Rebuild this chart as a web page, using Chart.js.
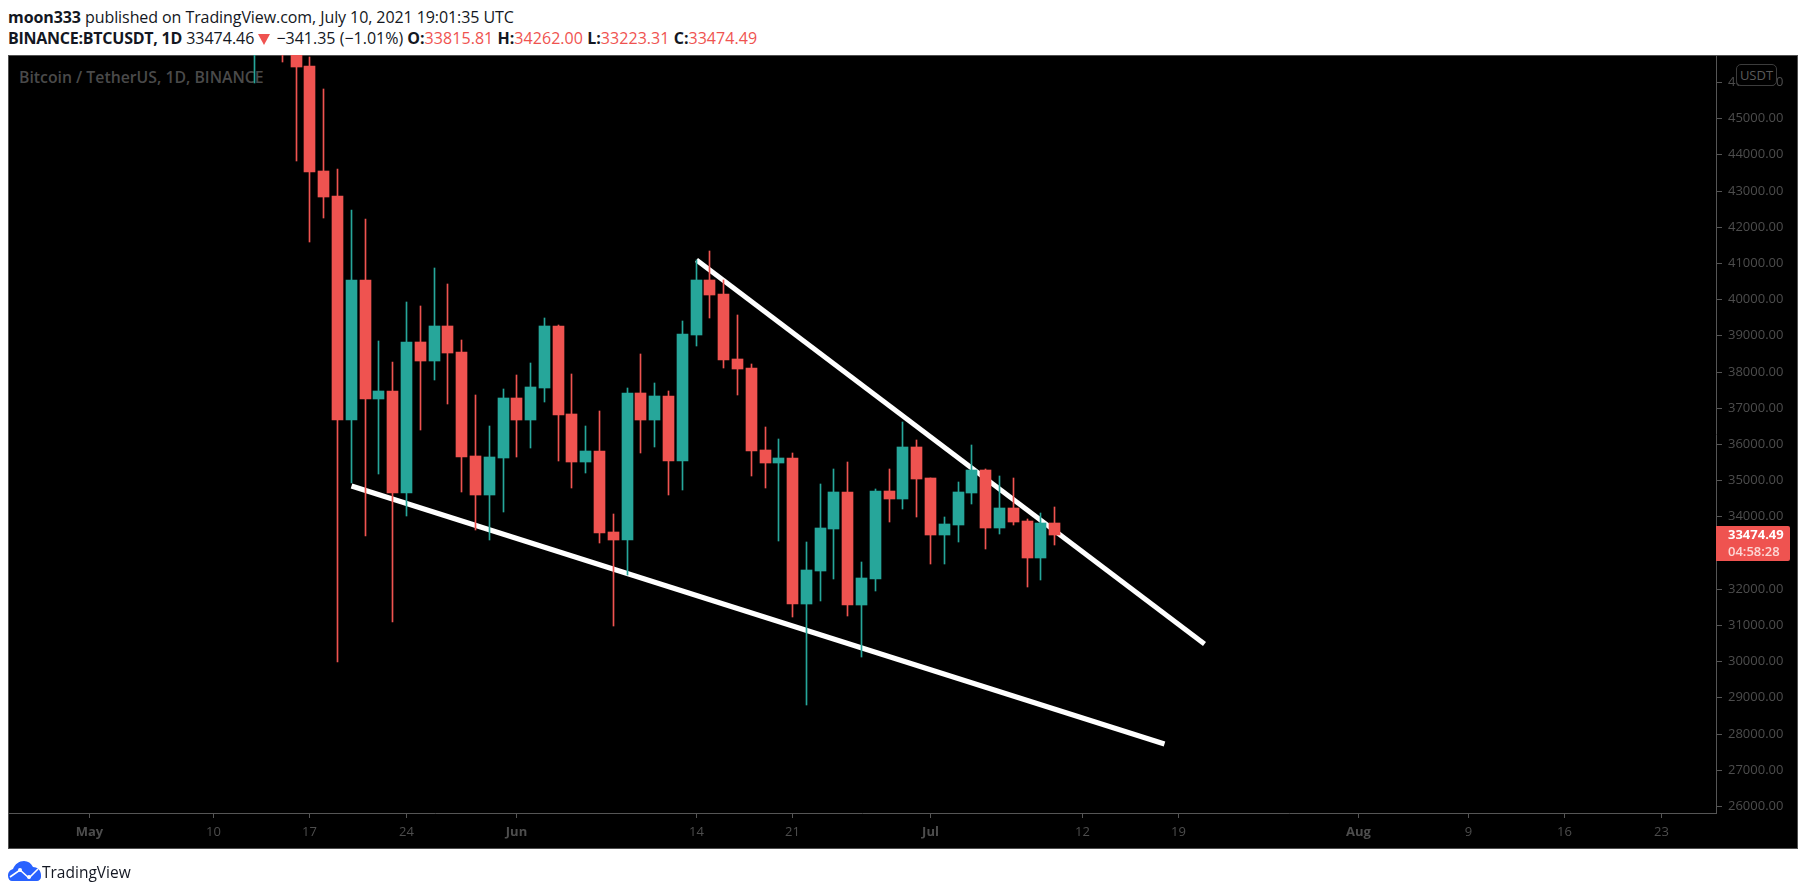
<!DOCTYPE html>
<html><head><meta charset="utf-8">
<script src="https://cdn.jsdelivr.net/npm/chart.js@4/dist/chart.umd.min.js"></script>
<style>
html,body{margin:0;padding:0;background:#fff;width:1805px;height:895px;overflow:hidden;font-family:"Open Sans",sans-serif}
.abs{position:absolute;white-space:nowrap}
#panel{left:8px;top:55px;width:1790px;height:794px;box-sizing:border-box;background:#000;border:1.5px solid #505050}
#hd1{left:8px;top:7px;font-size:16px;line-height:20px;color:#131722;letter-spacing:-0.08px}
#hd2{left:8px;top:28px;font-size:16px;line-height:20px;color:#131722}
.b{font-weight:700}.r{color:#ef5350;letter-spacing:.06px}
#hd2 .s{letter-spacing:-0.25px}
#tri{display:inline-block;width:0;height:0;margin:0 6px 0 4px;border-left:6px solid transparent;border-right:6px solid transparent;border-top:11px solid #ef5350;vertical-align:-1px}
#wm{left:19px;top:65px;font-size:15.8px;line-height:24px;font-weight:600;color:#4a4a4a}
canvas{position:absolute;left:0;top:0}
#usdt{left:1736px;top:64px;width:39px;height:20px;border:1px solid #3c3c3c;border-radius:5px;background:#000;color:#5a5a5a;font:13px/20px "Open Sans",sans-serif;text-align:center}
#last{left:1716px;top:526px;width:74px;height:35px;background:#ef5350;border-radius:0 2px 2px 0;font:700 13px/17px "Open Sans",sans-serif;color:#fff}
#last div{padding-left:12px}
#last .t{color:#fcd7d5;font-weight:600}
#brand{left:42px;top:861px;font-size:15.5px;line-height:22px;color:#131722}
#logo{left:8px;top:861px}
</style></head><body>
<div id="panel" class="abs"></div>
<div id="wm" class="abs">Bitcoin / TetherUS, 1D, BINANCE</div>
<div id="hd1" class="abs"><span class="b">moon333</span> published on TradingView.com, July 10, 2021 19:01:35 UTC</div>
<div id="hd2" class="abs"><span class="b s">BINANCE:BTCUSDT, 1D</span> 33474.46<span id="tri"></span>−341.35 (−1.01%) <span class="b">O:</span><span class="r">33815.81</span> <span class="b">H:</span><span class="r">34262.00</span> <span class="b">L:</span><span class="r">33223.31</span> <span class="b">C:</span><span class="r">33474.49</span></div>
<canvas id="c" width="1805" height="895"></canvas>
<div id="usdt" class="abs">USDT</div>
<div id="last" class="abs"><div>33474.49</div><div class="t">04:58:28</div></div>
<svg id="logo" class="abs" width="33" height="20" viewBox="0 0 33 20"><path fill="#2962ff" d="M0 15C0 11 2 9 5 8 7 3 11 0 16 0c4 0 7 2 9 6 4 0 8 3 8 8v2c0 2-2 4-4 4H4c-2 0-4-2-4-5z"/><path fill="none" stroke="#fff" stroke-width="1.6" d="M2 16l10-7 9 8 9-9"/><circle cx="12" cy="9" r="2" fill="#fff"/><circle cx="21" cy="16" r="2" fill="#fff"/></svg>
<div id="brand" class="abs">TradingView</div>
<script>
const days  = [12,13,14,15,16,17,18,19,20,21,22,23,24,25,26,27,28,29,30,31,32,33,34,35,36,37,38,39,40,41,42,43,44,45,46,47,48,49,50,51,52,53,54,55,56,57,58,59,60,61,62,63,64,65,66,67,68,69,70];
const opens = [49537,49671,49842,46800,46439,43538,42848,36663,40530,37243,37464,34646,38818,38293,39260,38541,35668,34591,35613,37271,36663,37547,39260,36829,35503,35807,33569,33348,37409,36663,37326,35530,39011,40530,40144,38348,38099,35834,35475,35613,31580,32491,33651,34674,31552,32270,34701,34480,35917,35060,33486,33762,34646,35281,33679,34232,33873,32851,33815.81];
const closes= [49671,49841,46800,46420,43511,42829,36663,40530,37243,37464,34646,38818,38293,39260,38514,35641,34591,35641,37271,36663,37575,39260,36801,35503,35807,33541,33348,37409,36663,37326,35530,39039,40530,40116,38320,38072,35807,35475,35613,31580,32519,33679,34674,31552,32298,34701,34480,35917,35033,33486,33790,34674,35281,33679,34232,33845,32851,33817,33474.49];
const highs = [51367,51400,50700,49000,46678,45803,43593,42461,42212,38845,38265,39923,39812,40862,40420,38873,37354,36497,37519,37906,38237,39481,39287,37934,36497,36911,34066,37547,38486,37685,37464,39398,41083,41331,40530,39563,38210,36469,36138,35751,33293,34895,35309,35502,32740,34757,35309,36607,36110,35060,33983,34950,35972,35309,35116,35060,33928,34094,34262];
const lows  = [45978,48799,46558,43824,41590,42249,29978,34913,33459,35171,31083,34011,36387,37768,37105,34674,33624,33348,34121,35641,35889,37160,35530,34785,35199,33265,30972,32381,35751,35917,34591,34729,38707,39481,38099,37354,35116,34785,33320,31221,28790,31663,32270,31248,30116,31939,33845,34204,33983,32685,32685,33293,34342,33099,33514,33762,32049,32243,33223.31];

const xTickDays   = [0,9,16,23,31,44,51,61,72,79,92,100,107,114];
const xTickLabels = ['May','10','17','24','Jun','14','21','Jul','12','19','Aug','9','16','23'];
const monthLabels = ['May','Jun','Jul','Aug'];
const yTickValues = [46000,45000,44000,43000,42000,41000,40000,39000,38000,37000,36000,35000,34000,33000,32000,31000,30000,29000,28000,27000,26000];

const upperLineDays   = [44.02,80.9];
const upperLinePrices = [41083,30474];
const lowerLineDays   = [19.03,77.96];
const lowerLinePrices = [34840,27704];

const UP='#26a69a', DOWN='#ef5350', AXIS='#555555', TXT='#4d4d4d';
const colorOf = i => closes[i] >= opens[i] ? UP : DOWN;
const FONT = '"Open Sans",sans-serif';

function snap(scale,fn){
  if(scale._snapped) return;
  const orig = scale.getPixelForValue.bind(scale);
  scale.getPixelForValue = (v,i)=>fn(orig(v,i));
  scale._snapped = true;
}

new Chart(document.getElementById('c'),{
  type:'bar',
  data:{datasets:[
    {type:'bar',label:'bodies',order:1,grouped:false,barThickness:11,
     data:days.map((d,i)=>({x:d,y:[opens[i],closes[i]]})),
     backgroundColor:days.map((d,i)=>colorOf(i))},
    {type:'bar',label:'wicks',order:2,grouped:false,barThickness:1,
     data:days.map((d,i)=>({x:d,y:[lows[i],highs[i]]})),
     backgroundColor:days.map((d,i)=>colorOf(i))},
    {type:'line',label:'upper',order:3,borderColor:'#fff',borderWidth:5,pointRadius:0,tension:0,
     data:upperLineDays.map((d,i)=>({x:d,y:upperLinePrices[i]}))},
    {type:'line',label:'lower',order:3,borderColor:'#fff',borderWidth:5,pointRadius:0,tension:0,
     data:lowerLineDays.map((d,i)=>({x:d,y:lowerLinePrices[i]}))}
  ]},
  options:{
    responsive:false,animation:false,devicePixelRatio:1,
    layout:{padding:{left:8,top:55,right:8,bottom:47}},
    plugins:{legend:{display:false},tooltip:{enabled:false}},
    scales:{
      x:{type:'linear',min:-5.896,max:117.96,offset:false,
        border:{color:AXIS,width:1},
        grid:{display:true,offset:false,drawOnChartArea:false,drawTicks:true,tickLength:5,tickColor:AXIS,color:AXIS},
        afterBuildTicks(s){s.ticks=xTickDays.map(v=>({value:v}));snap(s,p=>Math.floor(p)+0.5);},
        afterFit(s){s.height=35;},
        ticks:{autoSkip:false,maxRotation:0,minRotation:0,padding:6,color:TXT,
          callback:v=>xTickLabels[xTickDays.indexOf(v)],
          font:c=>({family:FONT,size:13,weight:monthLabels.includes(c.tick&&c.tick.label)?'700':'400'})}
      },
      y:{type:'linear',position:'right',min:25807,max:46746,
        border:{color:AXIS,width:1},
        grid:{display:true,drawOnChartArea:false,drawTicks:true,tickLength:6,tickColor:AXIS,color:AXIS},
        afterBuildTicks(s){s.ticks=yTickValues.map(v=>({value:v}));snap(s,p=>Math.round(p));},
        afterFit(s){s.width=81;},
        ticks:{autoSkip:false,padding:6,color:TXT,
          font:{family:FONT,size:13},callback:v=>v.toFixed(2)}
      }
    }
  }
});
</script>
</body></html>
